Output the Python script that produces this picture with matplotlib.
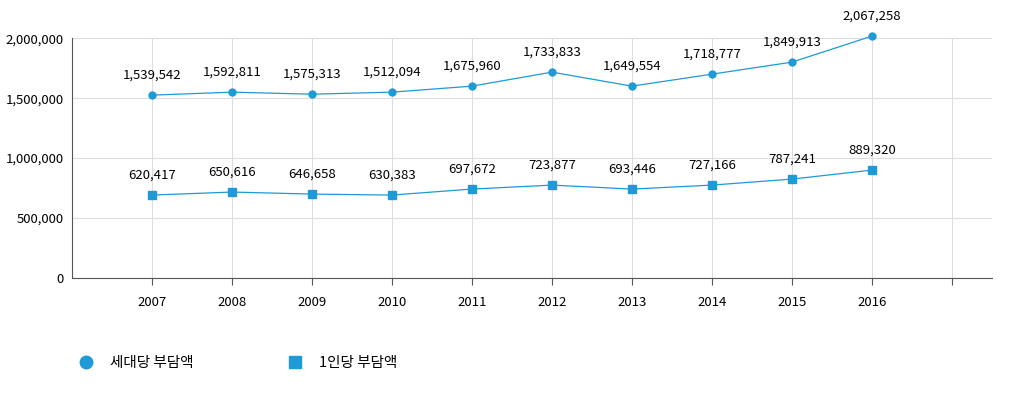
import matplotlib
matplotlib.use("Agg")
import matplotlib.pyplot as plt
from matplotlib.lines import Line2D

years = [2007, 2008, 2009, 2010, 2011, 2012, 2013, 2014, 2015, 2016]
household = [1525000, 1550000, 1533000, 1550000, 1600000, 1717000, 1600000, 1700000, 1800000, 2017000]
household_labels = ["1,539,542", "1,592,811", "1,575,313", "1,512,094", "1,675,960", "1,733,833",
                    "1,649,554", "1,718,777", "1,849,913", "2,067,258"]
person = [692000, 717000, 700000, 692000, 742000, 775000, 742000, 775000, 825000, 900000]
person_labels = ["620,417", "650,616", "646,658", "630,383", "697,672", "723,877",
                 "693,446", "727,166", "787,241", "889,320"]
yticks = [0, 500000, 1000000, 1500000, 2000000]
series_names = ["세대당 부담액", "1인당 부담액"]

plt.rcParams["font.family"] = ["Noto Sans CJK JP", "Noto Sans CJK KR", "DejaVu Sans"]
color = "#1e9ad6"
fig = plt.figure(figsize=(10.10, 4.15), dpi=100)
ax = fig.add_axes([0.0713, 0.330, 0.9107, 0.578])
ax.plot(years, household, color=color, lw=0.9, marker="o", ms=5, clip_on=False)
ax.plot(years, person, color=color, lw=0.9, marker="s", ms=6, clip_on=False)
for x, y, t in zip(years, household, household_labels):
    ax.annotate(t, (x, y), xytext=(0, 12), textcoords="offset points", ha="center",
                fontsize=9.5, annotation_clip=False)
for x, y, t in zip(years, person, person_labels):
    ax.annotate(t, (x, y), xytext=(0, 12), textcoords="offset points", ha="center",
                fontsize=9.5, annotation_clip=False)
ax.set_xlim(2006, 2017.5)
ax.set_ylim(0, 2000000)
ax.set_xticks(years + [2017])
ax.set_xticklabels([str(y) for y in years] + [""])
ax.set_yticks(yticks)
ax.set_yticklabels([f"{v:,}" for v in yticks])
ax.grid(True, color="#dddddd", lw=0.8)
ax.set_axisbelow(True)
for s in ["top", "right"]:
    ax.spines[s].set_visible(False)
ax.spines["left"].set_color("#555555")
ax.spines["bottom"].set_color("#555555")
ax.tick_params(axis="y", length=0, labelsize=9.5, pad=6)
ax.tick_params(axis="x", length=5, labelsize=9.5, color="#555555", pad=8)
handles = [Line2D([], [], color=color, marker="o", ls="", ms=9),
           Line2D([], [], color=color, marker="s", ls="", ms=9)]
fig.legend(handles, series_names, loc="center left", bbox_to_anchor=(0.058, 0.125), ncol=2,
           frameon=False, fontsize=10.5, columnspacing=6, handletextpad=0.6)
fig.savefig("out.png", dpi=100)
